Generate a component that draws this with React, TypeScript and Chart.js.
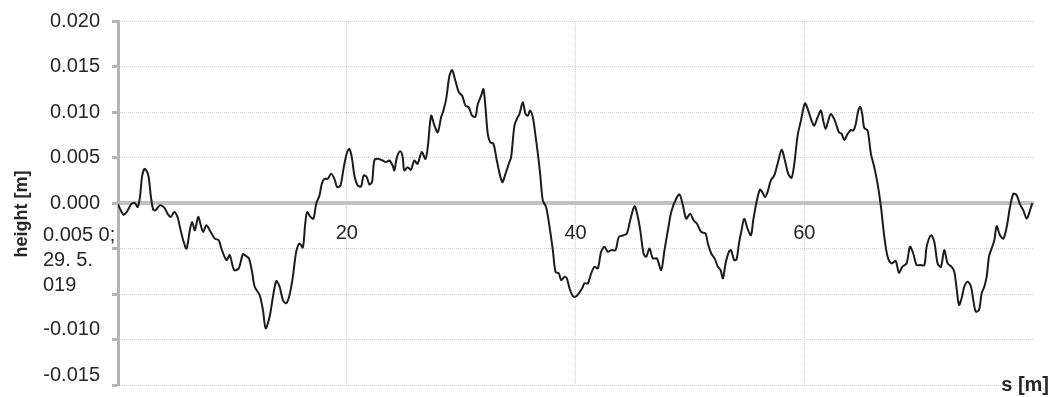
import { useEffect, useRef } from 'react';
import { Chart, registerables } from 'chart.js';

Chart.register(...registerables);

// Longitudinal road profile: distance along the track [m] and surface height [m]
const DISTANCE = [
  0.0, 0.47, 0.76, 1.19, 1.48, 1.72, 1.92, 2.12, 2.35, 2.65, 2.88, 3.08, 3.28, 3.66, 4.04, 4.33, 4.62, 4.91,
  5.2, 5.41, 5.7, 5.99, 6.28, 6.48, 6.72, 7.01, 7.24, 7.44, 7.73, 8.02, 8.46, 8.81, 9.04, 9.48, 9.77, 10.15,
  10.55, 10.93, 11.22, 11.45, 11.72, 11.95, 12.38, 12.67, 12.91, 13.26, 13.55, 13.84, 14.13, 14.42, 14.71, 15.0,
  15.29, 15.58, 15.87, 16.16, 16.37, 16.54, 16.83, 17.09, 17.33, 17.62, 17.82, 18.05, 18.34, 18.63, 18.92, 19.16,
  19.45, 19.74, 20.03, 20.23, 20.44, 20.67, 20.96, 21.25, 21.48, 21.74, 21.98, 22.21, 22.41, 22.7, 23.14, 23.43,
  23.72, 24.01, 24.16, 24.39, 24.68, 24.88, 25.03, 25.32, 25.61, 25.9, 26.19, 26.55, 26.88, 27.08, 27.38, 27.67,
  27.96, 28.25, 28.45, 28.69, 28.98, 29.21, 29.5, 29.8, 30.09, 30.38, 30.67, 30.96, 31.25, 31.46, 31.75, 31.95,
  32.13, 32.33, 32.54, 32.83, 33.12, 33.59, 33.88, 34.17, 34.37, 34.66, 34.87, 35.1, 35.39, 35.63, 35.83, 36.03,
  36.27, 36.5, 36.71, 36.91, 37.14, 37.43, 37.73, 38.02, 38.25, 38.54, 38.75, 39.04, 39.24, 39.48, 39.77, 40.0,
  40.29, 40.58, 40.79, 41.08, 41.37, 41.66, 41.95, 42.24, 42.54, 42.83, 43.12, 43.5, 43.79, 44.2, 44.49, 44.78,
  45.16, 45.45, 45.66, 45.95, 46.18, 46.47, 46.76, 47.11, 47.49, 47.78, 48.08, 48.37, 48.8, 49.1, 49.39, 49.68,
  50.03, 50.32, 50.61, 50.99, 51.37, 51.57, 51.87, 52.16, 52.45, 52.68, 52.89, 53.12, 53.41, 53.59, 53.88, 54.08,
  54.29, 54.52, 54.75, 55.04, 55.34, 55.54, 55.83, 56.12, 56.33, 56.56, 56.79, 57.08, 57.38, 57.67, 58.02, 58.31,
  58.6, 58.89, 59.13, 59.42, 59.71, 60.06, 60.35, 60.64, 60.87, 61.17, 61.46, 61.66, 61.87, 62.1, 62.33, 62.62,
  62.83, 63.03, 63.27, 63.5, 63.79, 64.08, 64.29, 64.49, 64.72, 64.9, 65.07, 65.25, 65.54, 65.83, 66.12, 66.41,
  66.71, 67.0, 67.29, 67.64, 67.99, 68.28, 68.57, 68.95, 69.24, 69.53, 69.82, 70.12, 70.5, 70.7, 71.08, 71.37,
  71.66, 71.95, 72.24, 72.54, 72.89, 73.12, 73.32, 73.53, 73.76, 73.99, 74.29, 74.58, 74.78, 74.99, 75.28, 75.51,
  75.74, 75.95, 76.15, 76.38, 76.62, 76.82, 77.11, 77.41, 77.7, 77.99, 78.28, 78.57, 78.86, 79.15, 79.45, 79.74,
  79.94,
];

const HEIGHT = [
  -0.00015, -0.00128, -0.00099, -0.00007, 0.0, -0.00044, 0.00066, 0.00303, 0.00376, 0.00303, 0.00066, -0.00073,
  -0.0008, -0.00026, -0.00051, -0.00117, -0.00153, -0.00099, -0.00153, -0.00263, -0.00409, -0.005, -0.00299,
  -0.00208, -0.00299, -0.00153, -0.00245, -0.00318, -0.00245, -0.00299, -0.00391, -0.00409, -0.005, -0.00628,
  -0.00573, -0.00737, -0.00719, -0.00562, -0.00584, -0.00609, -0.00755, -0.0092, -0.01011, -0.01175, -0.01376,
  -0.01248, -0.01029, -0.00858, -0.0092, -0.01066, -0.01102, -0.01011, -0.0081, -0.00536, -0.00445, -0.00489,
  -0.00226, -0.00099, -0.00153, -0.00172, -0.00007, 0.00084, 0.00212, 0.00266, 0.00266, 0.00321, 0.00266,
  0.00175, 0.00193, 0.00394, 0.00558, 0.00595, 0.00504, 0.00303, 0.00193, 0.00182, 0.00303, 0.00285, 0.00204,
  0.0023, 0.00467, 0.00485, 0.00467, 0.00449, 0.00467, 0.00412, 0.00358, 0.00504, 0.00569, 0.00511, 0.00358,
  0.00394, 0.00365, 0.00467, 0.00431, 0.0056, 0.00485, 0.00613, 0.0096, 0.0085, 0.00777, 0.00942, 0.01015,
  0.01142, 0.01398, 0.0146, 0.01343, 0.01215, 0.01179, 0.01069, 0.01051, 0.0096, 0.00949, 0.01088, 0.01179,
  0.01252, 0.01051, 0.00759, 0.00668, 0.0065, 0.00467, 0.0023, 0.00321, 0.00431, 0.00504, 0.0085, 0.00923,
  0.00978, 0.01106, 0.00978, 0.0096, 0.01015, 0.00942, 0.00741, 0.0054, 0.00321, 0.00029, -0.00044, -0.00263,
  -0.00518, -0.00755, -0.00774, -0.00847, -0.0081, -0.00828, -0.00938, -0.01022, -0.01029, -0.00993, -0.00938,
  -0.00883, -0.00883, -0.00774, -0.00701, -0.00719, -0.00536, -0.00482, -0.00536, -0.00518, -0.00518, -0.00372,
  -0.00354, -0.00336, -0.0019, -0.00036, -0.00153, -0.00299, -0.00555, -0.00591, -0.005, -0.00609, -0.00609,
  -0.00737, -0.00518, -0.00299, -0.00099, 0.00047, 0.00095, -0.00026, -0.00172, -0.00117, -0.0019, -0.00226,
  -0.00318, -0.00336, -0.00445, -0.00555, -0.00609, -0.00701, -0.00737, -0.00828, -0.00664, -0.00536, -0.00518,
  -0.00628, -0.0062, -0.00445, -0.00299, -0.00172, -0.00281, -0.00354, -0.0019, 0.00011, 0.00146, 0.0012,
  0.00066, 0.0012, 0.00248, 0.00303, 0.00431, 0.00584, 0.00467, 0.00321, 0.00277, 0.00431, 0.00741, 0.00905,
  0.01095, 0.01015, 0.00905, 0.0085, 0.00942, 0.01015, 0.00905, 0.00814, 0.00905, 0.00978, 0.00923, 0.0085,
  0.00777, 0.00759, 0.00693, 0.00759, 0.00803, 0.00796, 0.00861, 0.01015, 0.01058, 0.00978, 0.00825, 0.00796,
  0.0054, 0.00394, 0.00212, -0.00044, -0.00372, -0.00591, -0.00664, -0.00635, -0.00766, -0.00701, -0.00664,
  -0.00482, -0.00555, -0.00682, -0.00682, -0.00682, -0.00482, -0.00354, -0.00427, -0.00664, -0.00701, -0.00518,
  -0.00664, -0.00701, -0.00755, -0.00938, -0.0112, -0.01047, -0.0092, -0.00865, -0.0092, -0.01066, -0.01193,
  -0.01175, -0.00993, -0.0092, -0.0081, -0.00591, -0.005, -0.00409, -0.00255, -0.00354, -0.00391, -0.00263,
  -0.00044, 0.00102, 0.00084, -0.00015, -0.0008, -0.00172, -0.0008, 0.0,
];

const X_TICKS = [0, 20, 40, 60, 80];
const X_TICK_LABELS = ['', '20', '40', '60', ''];
const Y_TICKS = [0.02, 0.015, 0.01, 0.005, 0, -0.005, -0.01, -0.015, -0.02];
const Y_TICK_LABELS = ['0.020', '0.015', '0.010', '0.005', '0.000', '', '', '-0.010', '-0.015'];
const NOTE_LINES = ['0.005 0;', '29. 5.', '019'];
const X_TITLE = 's [m]';
const Y_TITLE = 'height [m]';

const FONT = '"Liberation Sans", Arial, sans-serif';
const TEXT = '#262626';
const AXIS = '#b4b4b4';
const ZERO_LINE = '#c2c2c2';
const GRID = '#d2d2d2';

// Texts placed beside the axes: the note block and both axis titles
const sideTexts = {
  id: 'sideTexts',
  afterDraw(chart: any) {
    const { ctx, chartArea, scales } = chart;
    ctx.save();
    ctx.fillStyle = TEXT;
    ctx.textBaseline = 'middle';

    ctx.font = `20px ${FONT}`;
    ctx.textAlign = 'left';
    const noteY = scales.y.getPixelForValue(-0.005);
    NOTE_LINES.forEach((line, i) => ctx.fillText(line, 43, noteY - 13 + i * 25));

    ctx.font = `bold 20px ${FONT}`;
    ctx.textAlign = 'right';
    ctx.fillText(X_TITLE, chart.width - 5, chartArea.bottom);

    ctx.font = `bold 18px ${FONT}`;
    ctx.textAlign = 'center';
    ctx.translate(22, (chartArea.top + chartArea.bottom) / 2 + 11);
    ctx.rotate(-Math.PI / 2);
    ctx.fillText(Y_TITLE, 0, 0);
    ctx.restore();
  },
};

export default function App() {
  const canvasRef = useRef<HTMLCanvasElement | null>(null);

  useEffect(() => {
    if (!canvasRef.current) return;
    const points = DISTANCE.map((s, i) => ({ x: s, y: HEIGHT[i] }));

    const chart = new Chart(canvasRef.current, {
      type: 'line',
      data: {
        datasets: [
          {
            data: points,
            borderColor: '#1c1c1c',
            borderWidth: 2,
            pointRadius: 0,
            tension: 0.3,
            fill: false,
          },
        ],
      },
      options: {
        animation: false,
        responsive: true,
        maintainAspectRatio: false,
        layout: { padding: { top: 21, right: 21, bottom: 12, left: 0 } },
        plugins: { legend: { display: false }, tooltip: { enabled: false } },
        font: { family: FONT },
        scales: {
          x: {
            type: 'linear',
            position: { y: 0 } as any,
            min: 0,
            max: 80,
            afterBuildTicks: (scale: any) => {
              scale.ticks = X_TICKS.map((value) => ({ value }));
            },
            afterFit: (scale: any) => {
              scale.paddingLeft = 0;
              scale.paddingRight = 0;
            },
            border: { display: true, color: ZERO_LINE, width: 4, dash: [1, 1] },
            grid: {
              drawTicks: false,
              lineWidth: 1,
              color: (ctx: any) =>
                ctx.tick && ctx.tick.value > 0 && ctx.tick.value < 80 ? GRID : 'rgba(0,0,0,0)',
            },
            ticks: {
              autoSkip: false,
              maxRotation: 0,
              padding: 18,
              color: TEXT,
              font: { family: FONT, size: 20, lineHeight: 1.2 },
              callback: (_v: any, i: number) => X_TICK_LABELS[i],
            },
          },
          y: {
            type: 'linear',
            min: -0.02,
            max: 0.02,
            afterBuildTicks: (scale: any) => {
              scale.ticks = Y_TICKS.map((value) => ({ value }));
            },
            afterFit: (scale: any) => {
              scale.width = 118;
              scale.paddingTop = 0;
              scale.paddingBottom = 0;
            },
            border: { display: true, color: AXIS, width: 3, dash: [1, 1] },
            grid: {
              color: GRID,
              lineWidth: 1,
              tickLength: 6,
              tickWidth: 3,
              tickColor: AXIS,
              tickBorderDash: [],
            },
            ticks: {
              padding: 12,
              color: TEXT,
              font: { family: FONT, size: 20, lineHeight: 1 },
              callback: (value: any, i: number) => {
                const label = Y_TICK_LABELS[i];
                return value < -0.012 ? [label, ''] : label;
              },
            },
          },
        },
      },
      plugins: [sideTexts],
    });

    return () => chart.destroy();
  }, []);

  return (
    <div style={{ position: 'fixed', left: 0, top: 0, width: 1054, height: 397, background: '#ffffff' }}>
      <canvas ref={canvasRef} />
    </div>
  );
}
